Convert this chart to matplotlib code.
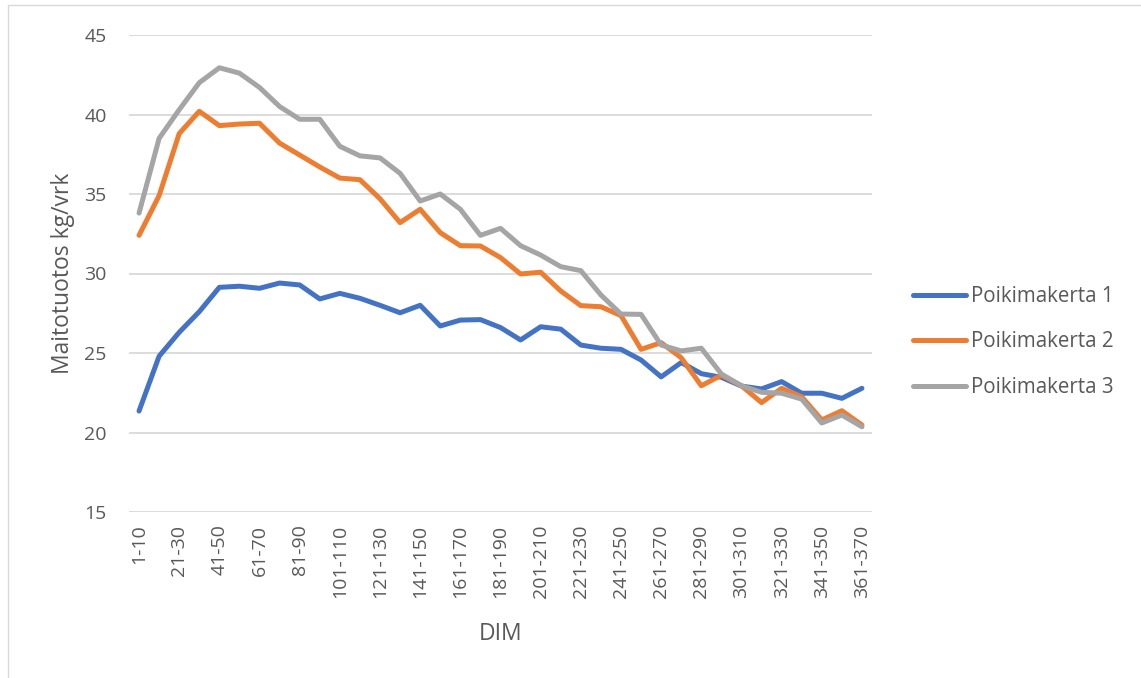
import matplotlib
matplotlib.use("Agg")
import matplotlib.pyplot as plt
from matplotlib.patches import Rectangle

categories = [f"{a}-{a+9}" for a in range(1, 371, 10)]

p1 = [21.35, 24.8, 26.3, 27.6, 29.13, 29.2, 29.07, 29.4, 29.28, 28.4, 28.75, 28.44, 28.0,
      27.53, 28.0, 26.7, 27.07, 27.1, 26.6, 25.82, 26.65, 26.5, 25.5, 25.3, 25.23, 24.56,
      23.5, 24.4, 23.7, 23.47, 22.92, 22.74, 23.2, 22.47, 22.47, 22.15, 22.78]
p2 = [32.4, 34.9, 38.8, 40.2, 39.3, 39.4, 39.45, 38.2, 37.45, 36.7, 36.0, 35.9, 34.7,
      33.2, 34.04, 32.57, 31.75, 31.73, 31.0, 29.97, 30.08, 28.9, 27.98, 27.91, 27.35,
      25.23, 25.65, 24.7, 22.94, 23.6, 22.94, 21.88, 22.78, 22.25, 20.79, 21.37, 20.47]
p3 = [33.8, 38.5, 40.3, 42.0, 42.94, 42.6, 41.7, 40.5, 39.7, 39.7, 38.0, 37.4, 37.27,
      36.3, 34.56, 35.0, 34.04, 32.4, 32.84, 31.75, 31.16, 30.43, 30.18, 28.65, 27.45,
      27.43, 25.5, 25.13, 25.3, 23.68, 22.94, 22.53, 22.47, 22.1, 20.6, 21.1, 20.36]

series = [("Poikimakerta 1", p1, "#4472C4"),
          ("Poikimakerta 2", p2, "#ED7D31"),
          ("Poikimakerta 3", p3, "#A5A5A5")]

plt.rcParams['font.family'] = ['Open Sans', 'DejaVu Sans']
txt = "#595959"

fig = plt.figure(figsize=(11.41, 6.78), dpi=100)
fig.patches.append(Rectangle((8 / 1141, -0.01), 1.02, 1 - 5 / 678 + 0.01,
                             transform=fig.transFigure, fill=False,
                             edgecolor="#D9D9D9", linewidth=1))
ax = fig.add_axes([129 / 1141, 1 - 512 / 678, (872 - 129) / 1141, (512 - 35) / 678])

x = list(range(len(categories)))
for name, vals, col in series:
    ax.plot(x, vals, color=col, linewidth=3.6, label=name, solid_capstyle="round",
            solid_joinstyle="round")

ax.set_xlim(-0.5, len(categories) - 0.5)
ax.set_ylim(15, 45)
ax.set_yticks(range(15, 46, 5))
ax.set_xticks(x[::2])
ax.set_xticklabels(categories[::2], rotation=90)
ax.grid(axis="y", color="#D9D9D9", linewidth=1.3)
ax.set_axisbelow(True)
for s in ax.spines.values():
    s.set_visible(False)
ax.tick_params(axis="both", length=0, labelsize=14, colors=txt)
ax.tick_params(axis="y", pad=16)
ax.tick_params(axis="x", pad=9)
ax.set_ylabel("Maitotuotos kg/vrk", fontsize=16.5, color=txt, labelpad=7)
ax.set_xlabel("DIM", fontsize=16.5, color=txt, labelpad=17)

leg = fig.legend(loc="center left", bbox_to_anchor=(913 / 1141, 1 - 342 / 678),
                 bbox_transform=fig.transFigure, frameon=False, borderpad=0,
                 borderaxespad=0, fontsize=14.8, labelspacing=1.18,
                 handlelength=2.6, handletextpad=0.2)
for t in leg.get_texts():
    t.set_color(txt)

fig.savefig("out.png", dpi=100)
